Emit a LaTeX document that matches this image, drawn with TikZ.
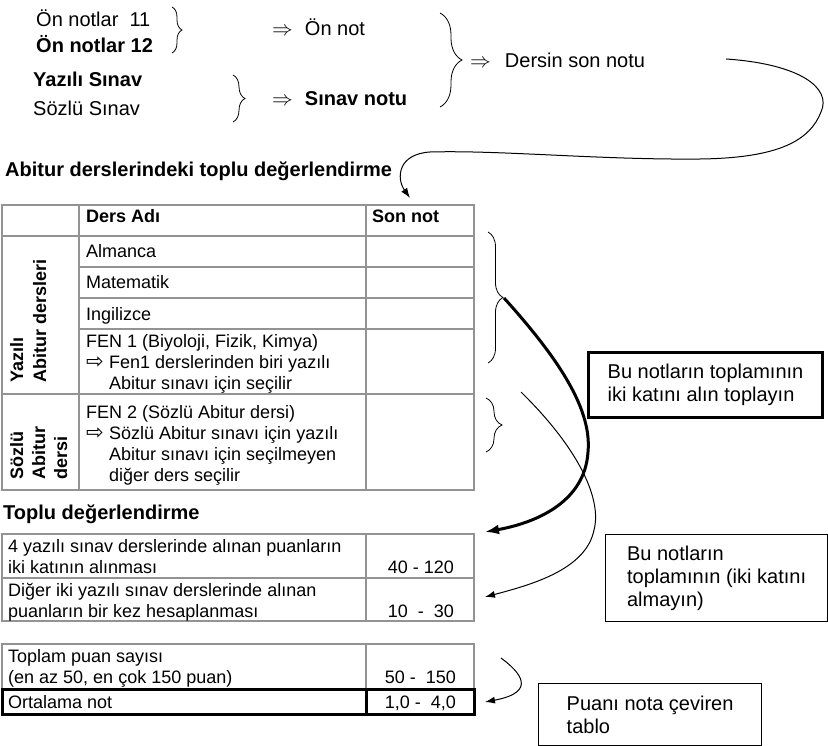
\documentclass[tikz,border=0pt]{standalone}
\usepackage{fontspec}
\setmainfont{Liberation Sans}
\newfontfamily\arrowfont{DejaVu Sans}
\newcommand{\hollowarrow}{\makebox[23pt][l]{\arrowfont\fontsize{21}{21}\selectfont ⇨}}
\usetikzlibrary{arrows.meta,positioning,calc,decorations.pathreplacing}

\begin{document}
\begin{tikzpicture}[
    x=1pt, y=-1pt,
    font=\fontsize{18}{21}\selectfont,
    >=Latex,
    big/.style={font=\fontsize{20}{23}\selectfont},
    txt/.style={anchor=base west, inner sep=0pt, align=left},
    grid/.style={draw=gray!85, line width=1.2pt},
    brc/.style={decorate, decoration={brace, amplitude=#1}, line width=0.8pt},
    conn/.style={-{Latex[length=10pt,width=7pt]}, line width=1pt},
    heavy/.style={-{Latex[length=14pt,width=10pt]}, line width=3pt},
    note/.style={draw, anchor=north west, align=left, inner ysep=0pt}
]
    \useasboundingbox (0,0) rectangle (828,746);

    % top: how the final grade is made
    \node[txt, big] (pre11) at (36,27) {Ön notlar\ \ 11};
    \node[txt, big, font=\bfseries\fontsize{20}{23}\selectfont] (pre12) at (36,53) {Ön notlar 12};
    \node[txt, big, font=\bfseries\fontsize{20}{23}\selectfont] (written) at (33,87) {Yazılı Sınav};
    \node[txt, big] (oral) at (33,116) {Sözlü Sınav};
    \node[txt, big] (prenote) at (272,36) {$\Rightarrow$\hspace{12pt}Ön not};
    \node[txt, big] (examnote) at (272,106) {$\Rightarrow$\hspace{12pt}\textbf{Sınav notu}};
    \node[txt, big] (final) at (470,68) {$\Rightarrow$\hspace{14pt}Dersin son notu};

    \draw[brc=10] (172,7) -- (172,53);
    \draw[brc=12] (233,75) -- (233,122);
    \draw[brc=22] (440,13) -- (440,107);

    \coordinate (finalend) at (726,59);
    \coordinate (tabletop) at (410,198);
    \draw[conn] (finalend) .. controls (800,64) and (832,88) .. (821,112)
        .. controls (810,140) and (780,158) .. (700,159)
        .. controls (600,160) and (500,150) .. (430,152)
        .. controls (398,154) and (396,178) .. (tabletop);

    % table of Abitur subjects
    \node[txt, font=\bfseries\fontsize{20}{23}\selectfont] (head1) at (5,177) {Abitur derslerindeki toplu değerlendirme};

    \draw[grid] (2,205) rectangle (474,490);
    \draw[grid] (2,236) -- (474,236);
    \draw[grid] (2,394) -- (474,394);
    \foreach \y in {267,298,329}
        \draw[grid] (79,\y) -- (474,\y);
    \draw[grid] (79,205) -- (79,490);
    \draw[grid] (366,205) -- (366,490);

    \node[txt, font=\bfseries\fontsize{18}{21}\selectfont] (colname) at (86,223) {Ders Adı};
    \node[txt, font=\bfseries\fontsize{18}{21}\selectfont] (colgrade) at (372,223) {Son not};
    \node[txt] (almanca) at (86,258) {Almanca};
    \node[txt] (matematik) at (86,289) {Matematik};
    \node[txt] (ingilizce) at (86,320) {Ingilizce};
    % base of a multi-line node = last line
    \node[txt] (fen1) at (86,389) {FEN 1 (Biyoloji, Fizik, Kimya)\\\hollowarrow Fen1 derslerinden biri yazılı\\\hspace*{23pt}Abitur sınavı için seçilir};
    \node[txt] (fen2) at (86,481) {FEN 2 (Sözlü Abitur dersi)\\\hollowarrow Sözlü Abitur sınavı için yazılı\\\hspace*{23pt}Abitur sınavı için seçilmeyen\\\hspace*{23pt}diğer ders seçilir};

    \node[rotate=90, anchor=north west, inner sep=0pt, align=left, font=\bfseries\fontsize{18}{23}\selectfont] (wgroup) at (10,383) {Yazılı\\Abitur dersleri};
    \node[rotate=90, anchor=north west, inner sep=0pt, align=left, font=\bfseries\fontsize{18}{22}\selectfont] (ogroup) at (10,480) {Sözlü\\Abitur\\dersi};

    \draw[brc=15] (488,232) -- (488,363);
    \draw[brc=16] (486,398) -- (486,452);
    \coordinate (wtip) at (504,298);
    \coordinate (ostart) at (521,392);

    % overall evaluation
    \node[txt, font=\bfseries\fontsize{20}{23}\selectfont] (head2) at (3,519) {Toplu değerlendirme};

    \draw[grid] (2,534) rectangle (474,621);
    \draw[grid] (2,578) -- (474,578);
    \draw[grid] (366,534) -- (366,621);
    \node[txt] (double) at (8,573) {4 yazılı sınav derslerinde alınan puanların\\iki katının alınması};
    \node[txt] (single) at (8,617) {Diğer iki yazılı sınav derslerinde alınan\\puanların bir kez hesaplanması};
    \node[txt, anchor=base east] (doublerange) at (454,573) {40 - 120};
    \node[txt, anchor=base east] (singlerange) at (454,617) {10\ \ -\ \ 30};

    \draw[grid] (2,644) rectangle (474,689);
    \draw[grid] (366,644) -- (366,689);
    \draw[line width=3pt] (2,689) rectangle (474,714);
    \draw[line width=3pt] (366,689) -- (366,714);
    \node[txt] (total) at (8,683) {Toplam puan sayısı\\(en az 50, en çok 150 puan)};
    \node[txt] (average) at (8,708) {Ortalama not};
    \node[txt, anchor=base east] (totalrange) at (456,683) {50 -\ \ 150};
    \node[txt, anchor=base east] (averagerange) at (456,708) {1,0 -\ \ 4,0};

    % notes on the right
    \node[note, big, line width=3pt, minimum width=234pt, minimum height=65pt, inner xsep=14pt] (note1) at (587,351) {Bu notların toplamının\\iki katını alın toplayın};
    \node[note, big, line width=1.2pt, minimum width=222pt, minimum height=87pt, inner xsep=12pt] (note2) at (605,534) {Bu notların\\toplamının (iki katını\\almayın)};
    \node[note, big, line width=1.2pt, minimum width=223pt, minimum height=62pt, inner xsep=14pt] (note3) at (538,683) {Puanı nota çeviren\\tablo};

    \coordinate (doubleend) at (485,532);
    \coordinate (singleend) at (485,597);
    \coordinate (avgstart) at (501,658);
    \coordinate (avgend) at (485,702);
    \draw[heavy] (wtip) .. controls (560,360) and (592,410) .. (588,452)
        .. controls (585,500) and (540,522) .. (doubleend);
    \draw[conn] (ostart) .. controls (580,450) and (602,500) .. (594,530)
        .. controls (586,570) and (530,585) .. (singleend);
    \draw[conn] (avgstart) .. controls (520,672) and (538,692) .. (avgend);
\end{tikzpicture}
\end{document}
